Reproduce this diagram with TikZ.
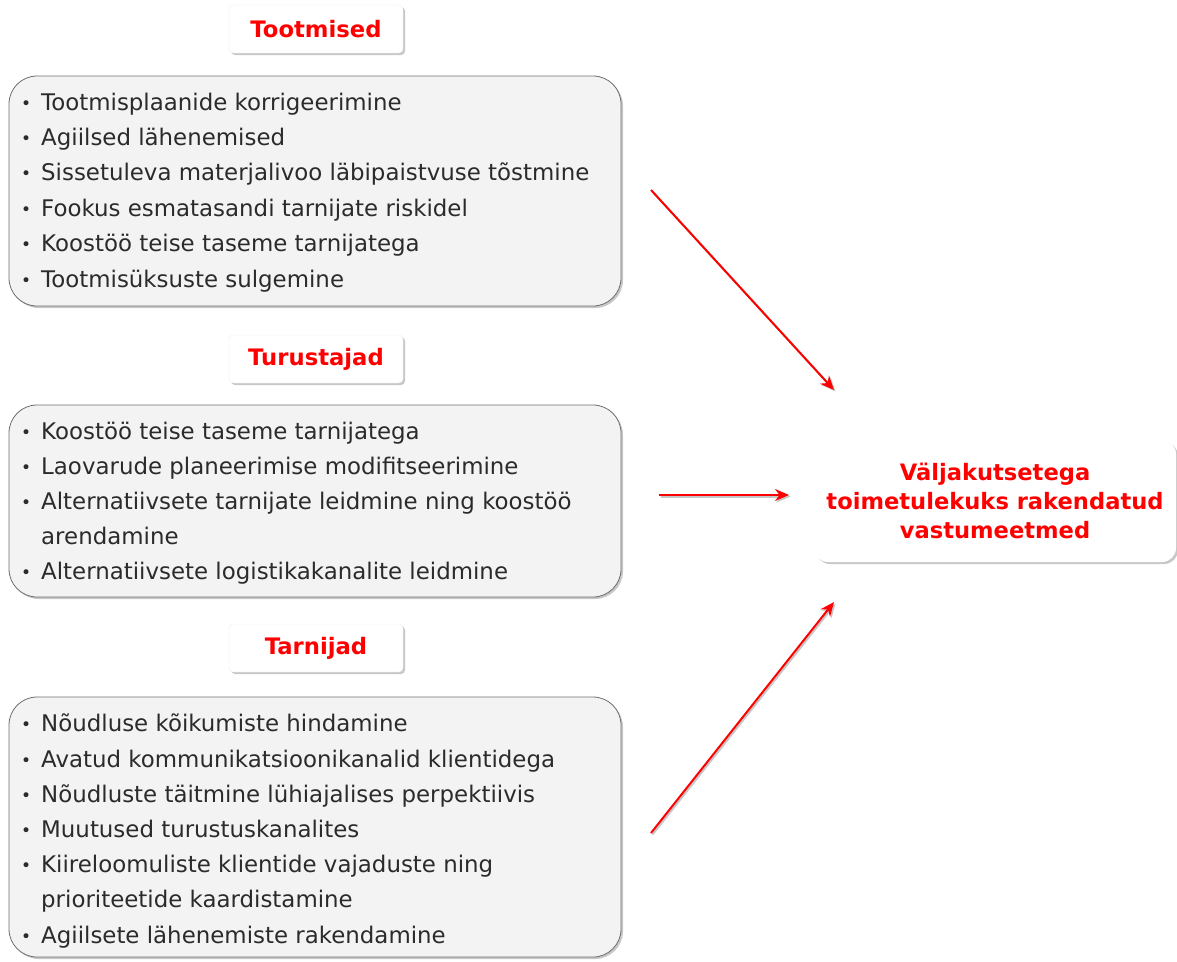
\documentclass[tikz,border=0pt]{standalone}
\usepackage{fontspec}
\setmainfont{DejaVu Sans}
\usetikzlibrary{shadows,arrows.meta}
\definecolor{boxfill}{HTML}{F3F3F3}
\definecolor{boxline}{HTML}{6E6E6E}
\definecolor{myred}{HTML}{FF0000}
\definecolor{txt}{HTML}{2B2B2B}
\newcommand\bul{\makebox[18pt][l]{\hspace*{-2pt}\raisebox{1pt}{\fontsize{17}{17}\selectfont •}}}
\newcommand\nobul{\hspace*{18pt}}
\begin{document}
\begin{tikzpicture}[x=1pt,y=-1pt,
  shad/.style={drop shadow={shadow xshift=2pt,shadow yshift=-2pt,fill=gray!55,opacity=0.8}},
  panel/.style={draw=boxline,line width=0.8pt,fill=boxfill,rounded corners=28pt,shad,inner sep=0pt},
  titlebox/.style={draw=gray!15,fill=white,rounded corners=4pt,shad,minimum width=174pt,minimum height=48pt,inner sep=0pt,text=myred,font=\bfseries\fontsize{22.7}{26}\selectfont},
  goalbox/.style={fill=white,rounded corners=14pt,shad,minimum width=362pt,minimum height=122pt,inner sep=0pt,text=myred,align=center,font=\bfseries\fontsize{22.6}{29}\selectfont},
  item/.style={anchor=base west,inner sep=0pt,text=txt,font=\fontsize{22.9}{26}\selectfont},
  arr/.style={draw=myred,line width=2pt,-{Stealth[length=14pt,width=12pt]},
    preaction={draw=gray!45,line width=2pt,transform canvas={shift={(1.5pt,-1.5pt)}}}}]
\useasboundingbox (0,0) rectangle (1177,961);

% panels
\node[panel,minimum width=612pt,minimum height=230pt] (p1) at (315,191) {};
\node[panel,minimum width=612pt,minimum height=192pt] (p2) at (315,501) {};
\node[panel,minimum width=612pt,minimum height=260pt] (p3) at (315,827) {};

% titles
\node[titlebox] (h1) at (316,29) {Tootmised};
\node[titlebox] (h2) at (316,359) {Turustajad};
\node[titlebox] (h3) at (316,648) {Tarnijad};

% goal
\node[goalbox] (g) at (995,501) {Väljakutsetega\\toimetulekuks rakendatud\\vastumeetmed};

% panel 1 items
\node[item] (i11) at (23,110) {\bul Tootmisplaanide korrigeerimine};
\node[item] (i12) at (23,145) {\bul Agiilsed lähenemised};
\node[item] (i13) at (23,180) {\bul Sissetuleva materjalivoo läbipaistvuse tõstmine};
\node[item] (i14) at (23,216) {\bul Fookus esmatasandi tarnijate riskidel};
\node[item] (i15) at (23,251) {\bul Koostöö teise taseme tarnijatega};
\node[item] (i16) at (23,287) {\bul Tootmisüksuste sulgemine};

% panel 2 items
\node[item] (i21) at (23,439) {\bul Koostöö teise taseme tarnijatega};
\node[item] (i22) at (23,474) {\bul Laovarude planeerimise modifitseerimine};
\node[item] (i23) at (23,509) {\bul Alternatiivsete tarnijate leidmine ning koostöö};
\node[item] (i24) at (23,544) {\nobul arendamine};
\node[item] (i25) at (23,579) {\bul Alternatiivsete logistikakanalite leidmine};

% panel 3 items
\node[item] (i31) at (23,731) {\bul Nõudluse kõikumiste hindamine};
\node[item] (i32) at (23,767) {\bul Avatud kommunikatsioonikanalid klientidega};
\node[item] (i33) at (23,802) {\bul Nõudluste täitmine lühiajalises perpektiivis};
\node[item] (i34) at (23,837) {\bul Muutused turustuskanalites};
\node[item] (i35) at (23,872) {\bul Kiireloomuliste klientide vajaduste ning};
\node[item] (i36) at (23,907) {\nobul prioriteetide kaardistamine};
\node[item] (i37) at (23,943) {\bul Agiilsete lähenemiste rakendamine};

% arrows
\coordinate (a1s) at (651,190);
\coordinate (a1e) at (834,390);
\coordinate (a2s) at (659,495);
\coordinate (a2e) at (789,495);
\coordinate (a3s) at (651,833);
\coordinate (a3e) at (834,602);
\draw[arr] (a1s) -- (a1e);
\draw[arr] (a2s) -- (a2e);
\draw[arr] (a3s) -- (a3e);
\end{tikzpicture}
\end{document}
